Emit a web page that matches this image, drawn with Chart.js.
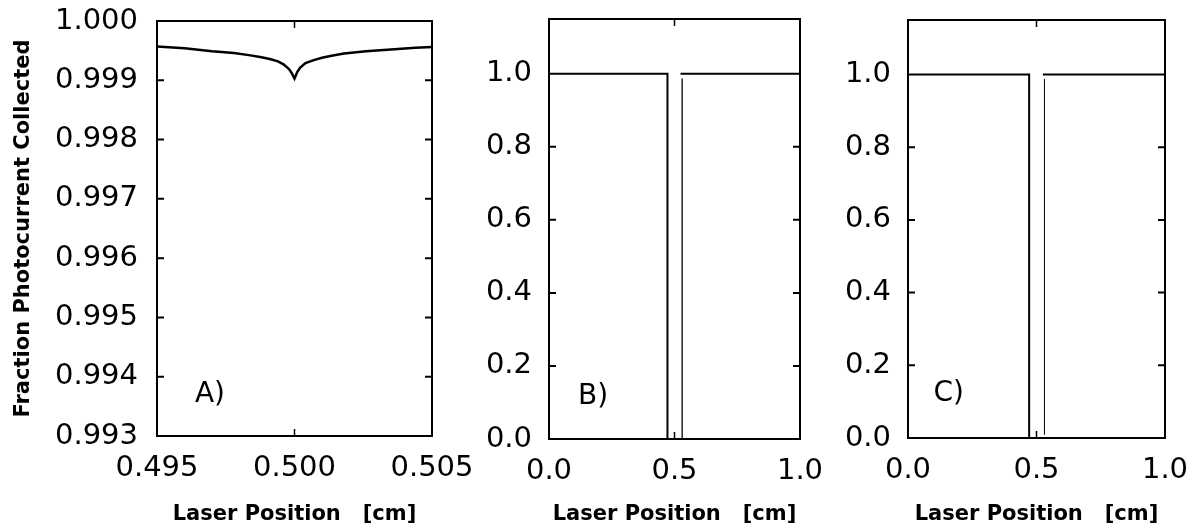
<!DOCTYPE html>
<html>
<head>
<meta charset="utf-8">
<script src="https://cdn.jsdelivr.net/npm/chart.js@4.4.1/dist/chart.umd.min.js"></script>
<style>
  html, body { margin: 0; padding: 0; background: #fff; }
  body { width: 1201px; height: 532px; position: relative; overflow: hidden; }
  .panel { position: absolute; top: 0; height: 532px; }
</style>
</head>
<body>
<div class="panel" id="wrapA" style="left:0px;width:480px"><canvas id="panelA"></canvas></div>
<div class="panel" id="wrapB" style="left:440px;width:400px"><canvas id="panelB"></canvas></div>
<div class="panel" id="wrapC" style="left:800px;width:401px"><canvas id="panelC"></canvas></div>
<script>
// A) zoom on the gap: collection efficiency near 0.5 cm
const posA = [0.4950, 0.4960, 0.4970, 0.4978, 0.4984, 0.4988, 0.4991, 0.4994, 0.4996, 0.4998, 0.4999, 0.5000,
              0.5001, 0.5002, 0.5004, 0.5007, 0.5010, 0.5013, 0.5018, 0.5026, 0.5035, 0.5044, 0.5050];
const fracA = [0.99957, 0.99954, 0.99949, 0.99946, 0.99942, 0.99939, 0.99936, 0.99932, 0.99927, 0.99919, 0.99912, 0.99903,
               0.99914, 0.99921, 0.99929, 0.99934, 0.99938, 0.99941, 0.99945, 0.99949, 0.99952, 0.99955, 0.99956];

// B) full strip, thin gap walls
const posBLeft = [0.0, 0.472, 0.472];
const fracBLeft = [1.0, 1.0, 0.0];
const posBWall = [0.5305, 0.5305];
const fracBWall = [0.0, 0.987];
const posBRight = [0.524, 1.0];
const fracBRight = [1.0, 1.0];

// C) full strip, heavy left wall
const posCLeft = [0.0, 0.4714, 0.4714];
const fracCLeft = [1.0, 1.0, 0.0];
const posCWall = [0.531, 0.531];
const fracCWall = [0.009, 0.988];
const posCRight = [0.5247, 1.0];
const fracCRight = [1.0, 1.0];

const yTicksA = [0.993, 0.994, 0.995, 0.996, 0.997, 0.998, 0.999, 1.000];
const xTicksA = [0.495, 0.500, 0.505];
const yTicksBC = [0.0, 0.2, 0.4, 0.6, 0.8, 1.0];
const xTicksBC = [0.0, 0.5, 1.0];

const FONT = "'DejaVu Sans', sans-serif";

function pts(xs, ys) {
  return xs.map((x, i) => ({ x: x, y: ys[i] }));
}

function line(xs, ys, width) {
  return {
    data: pts(xs, ys),
    borderColor: "#000",
    borderWidth: width,
    pointRadius: 0,
    tension: 0,
    fill: false,
  };
}

// box around the plot area, inward ticks, and the panel letter
const framePlugin = {
  id: "frame",
  afterDatasetsDraw(chart, args, opts) {
    const { ctx, chartArea: a, scales } = chart;
    ctx.save();
    ctx.strokeStyle = "#000";
    ctx.lineWidth = 2;
    ctx.strokeRect(a.left, a.top, a.right - a.left, a.bottom - a.top);

    ctx.lineWidth = 2;
    ctx.beginPath();
    opts.yTicks.slice(1, -1).forEach((v) => {
      const y = scales.y.getPixelForValue(v);
      ctx.moveTo(a.left, y);
      ctx.lineTo(a.left + 7, y);
      ctx.moveTo(a.right, y);
      ctx.lineTo(a.right - 7, y);
    });
    ctx.stroke();

    ctx.lineWidth = 1.5;
    ctx.beginPath();
    opts.xTicks.slice(1, -1).forEach((v) => {
      const x = scales.x.getPixelForValue(v);
      ctx.moveTo(x, a.bottom);
      ctx.lineTo(x, a.bottom - 7);
      ctx.moveTo(x, a.top);
      ctx.lineTo(x, a.top + 7);
    });
    ctx.stroke();

    ctx.fillStyle = "#000";
    ctx.font = "28px " + FONT;
    ctx.textAlign = "left";
    ctx.textBaseline = "middle";
    ctx.fillText(opts.label, scales.x.getPixelForValue(opts.labelAt[0]), scales.y.getPixelForValue(opts.labelAt[1]));
    ctx.restore();
  },
};

// keep the layout from growing the plot area around the end labels
function noEdgePadding(s) {
  s.paddingTop = 0;
  s.paddingBottom = 0;
  s.paddingLeft = 0;
  s.paddingRight = 0;
}

function makePanel(id, cfg) {
  const wrap = document.getElementById(id).parentNode;
  const canvas = document.getElementById(id);
  canvas.width = wrap.clientWidth;
  canvas.height = 532;
  return new Chart(canvas, {
    type: "line",
    data: { datasets: cfg.datasets },
    plugins: [framePlugin],
    options: {
      responsive: false,
      animation: false,
      layout: { padding: { top: cfg.top, right: cfg.right, bottom: 0, left: 0 } },
      plugins: {
        legend: { display: false },
        tooltip: { enabled: false },
        frame: { yTicks: cfg.yTicks, xTicks: cfg.xTicks, label: cfg.label, labelAt: cfg.labelAt },
      },
      scales: {
        x: {
          type: "linear",
          min: cfg.xTicks[0],
          max: cfg.xTicks[cfg.xTicks.length - 1],
          grid: { display: false, drawTicks: false },
          border: { display: false },
          afterBuildTicks: (s) => { s.ticks = cfg.xTicks.map((v) => ({ value: v })); },
          afterFit: (s) => { s.height = cfg.xHeight; noEdgePadding(s); },
          ticks: {
            autoSkip: false,
            maxRotation: 0,
            padding: 15,
            color: "#000",
            font: { family: FONT, size: 29 },
            callback: (v) => v.toFixed(cfg.xDigits),
          },
          title: {
            display: true,
            text: "Laser Position   [cm]",
            color: "#000",
            font: { family: FONT, size: 21, weight: "bold" },
            padding: { top: 0, bottom: 5 },
          },
        },
        y: {
          type: "linear",
          min: cfg.yTicks[0],
          max: cfg.yMax,
          grid: { display: false, drawTicks: false },
          border: { display: false },
          afterBuildTicks: (s) => { s.ticks = cfg.yTicks.map((v) => ({ value: v })); },
          afterFit: (s) => { s.width = cfg.yWidth; noEdgePadding(s); },
          ticks: {
            autoSkip: false,
            padding: cfg.yPad,
            color: "#000",
            font: { family: FONT, size: 29 },
            callback: (v) => v.toFixed(cfg.yDigits),
          },
          title: {
            display: !!cfg.yTitle,
            text: cfg.yTitle || "",
            color: "#000",
            font: { family: FONT, size: 21, weight: "bold" },
            padding: { top: 11, bottom: 0 },
          },
        },
      },
    },
  });
}

makePanel("panelA", {
  datasets: [line(posA, fracA, 2.5)],
  xTicks: xTicksA, yTicks: yTicksA, yMax: 1.000,
  xDigits: 3, yDigits: 3,
  top: 21, right: 48, yWidth: 157, xHeight: 96, yPad: 19,
  yTitle: "Fraction Photocurrent Collected",
  label: "A)", labelAt: [0.49638, 0.99369],
});

makePanel("panelB", {
  datasets: [line(posBLeft, fracBLeft, 2), line(posBWall, fracBWall, 1.3), line(posBRight, fracBRight, 2)],
  xTicks: xTicksBC, yTicks: yTicksBC, yMax: 1.15,
  xDigits: 1, yDigits: 1,
  top: 19, right: 40, yWidth: 109, xHeight: 93, yPad: 17,
  label: "B)", labelAt: [0.116, 0.115],
});

makePanel("panelC", {
  datasets: [line(posCLeft, fracCLeft, 2), line(posCWall, fracCWall, 1), line(posCRight, fracCRight, 2)],
  xTicks: xTicksBC, yTicks: yTicksBC, yMax: 1.15,
  xDigits: 1, yDigits: 1,
  top: 20, right: 36, yWidth: 108, xHeight: 94, yPad: 17,
  label: "C)", labelAt: [0.0995, 0.121],
});
</script>
</body>
</html>
